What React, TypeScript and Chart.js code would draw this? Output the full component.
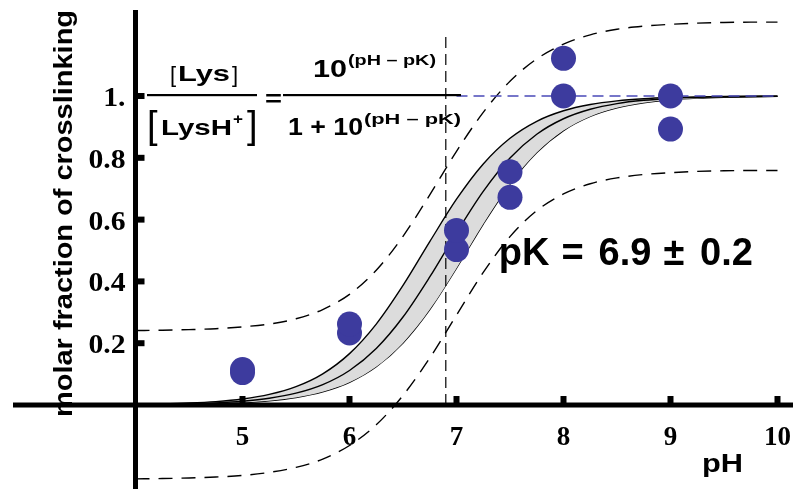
import React, { useEffect, useRef } from 'react';
import { Chart, registerables } from 'chart.js';

Chart.register(...registerables);

// ---- data ----
const pHGrid = [4, 4.25, 4.5, 4.75, 5, 5.25, 5.5, 5.75, 6, 6.25, 6.5, 6.75, 7, 7.25, 7.5, 7.75, 8, 8.25, 8.5, 8.75, 9, 9.25, 9.5, 9.75, 10];
const fitMid = [0.0013, 0.0022, 0.004, 0.007, 0.0124, 0.0219, 0.0383, 0.0661, 0.1118, 0.1829, 0.2847, 0.4145, 0.5573, 0.6912, 0.7992, 0.8762, 0.9264, 0.9572, 0.9755, 0.9861, 0.9921, 0.9956, 0.9975, 0.9986, 0.9992];
const bandUpper = [0.002, 0.0035, 0.0063, 0.0111, 0.0196, 0.0343, 0.0594, 0.1009, 0.1663, 0.2619, 0.3869, 0.5287, 0.6661, 0.7801, 0.8632, 0.9182, 0.9523, 0.9726, 0.9844, 0.9912, 0.995, 0.9972, 0.9984, 0.9991, 0.9995];
const bandLower = [0.0008, 0.0014, 0.0025, 0.0045, 0.0079, 0.0139, 0.0245, 0.0428, 0.0736, 0.1238, 0.2008, 0.3087, 0.4427, 0.5855, 0.7153, 0.8171, 0.8882, 0.9339, 0.9617, 0.9781, 0.9876, 0.993, 0.996, 0.9978, 0.9987];
const predUpper = [0.241, 0.242, 0.244, 0.247, 0.253, 0.262, 0.279, 0.309, 0.358, 0.436, 0.546, 0.68, 0.821, 0.947, 1.048, 1.12, 1.168, 1.198, 1.216, 1.226, 1.232, 1.236, 1.238, 1.239, 1.239];
const predLower = [-0.239, -0.238, -0.236, -0.233, -0.228, -0.218, -0.202, -0.175, -0.131, -0.064, 0.031, 0.152, 0.291, 0.429, 0.545, 0.629, 0.683, 0.716, 0.735, 0.746, 0.752, 0.756, 0.758, 0.759, 0.759];

const pHMeasured = [5, 5, 6, 6, 7, 7, 7.5, 7.5, 8, 8, 9, 9];
const fracMeasured = [0.105, 0.115, 0.233, 0.262, 0.503, 0.565, 0.672, 0.755, 1.0, 1.122, 0.893, 1.0];

const pKLineX = [6.9, 6.9];
const pKLineY = [0, 1.2];
const plateauX = [7, 10];
const plateauY = [1, 1];

const xTickValues = [5, 6, 7, 8, 9, 10];
const xTickLabels = ['5', '6', '7', '8', '9', '10'];
const yTickValues = [0.2, 0.4, 0.6, 0.8, 1.0];
const yTickLabels = ['0.2', '0.4', '0.6', '0.8', '1.'];
const xAxisTitle = 'pH';
const yAxisTitle = 'molar fraction of crosslinking';
const fitParts = ['pK', '=', '6.9', '±', '0.2'];

const SANS = '"Liberation Sans", Arial, Helvetica, sans-serif';
const SERIF = '"Liberation Serif", "Times New Roman", serif';

const pts = (xs: number[], ys: number[]) => xs.map((x, i) => ({ x, y: ys[i] }));

function drawText(
  ctx: CanvasRenderingContext2D,
  s: string,
  x: number,
  y: number,
  font: string,
  align: 'left' | 'center' | 'right' = 'left',
  width?: number,
  stretch?: number
) {
  ctx.save();
  ctx.font = font;
  ctx.textBaseline = 'alphabetic';
  ctx.textAlign = 'left';
  const w = ctx.measureText(s).width;
  const sx = width ? width / w : stretch || 1;
  const tw = w * sx;
  const left = align === 'center' ? x - tw / 2 : align === 'right' ? x - tw : x;
  ctx.translate(left, y);
  ctx.scale(sx, 1);
  ctx.fillStyle = '#000';
  ctx.fillText(s, 0, 0);
  ctx.restore();
}

const overlay = {
  id: 'overlay',
  afterDatasetsDraw(chart: any) {
    const ctx: CanvasRenderingContext2D = chart.ctx;
    const xs = chart.scales.x;
    const ys = chart.scales.y;
    const x0 = xs.getPixelForValue(4);
    const y0 = ys.getPixelForValue(0);
    ctx.save();
    ctx.fillStyle = '#000';
    // axes
    ctx.fillRect(13, y0 - 2.5, 793 - 13, 5);
    ctx.fillRect(x0 - 2.5, 10, 5, 489 - 10);
    // x ticks
    xTickValues.forEach((v, i) => {
      const px = xs.getPixelForValue(v);
      ctx.fillRect(px - 3, y0 - 9, 6, 8);
      drawText(ctx, xTickLabels[i], px, y0 + 40, `bold 27px ${SERIF}`, 'center');
    });
    // y ticks
    yTickValues.forEach((v, i) => {
      const py = ys.getPixelForValue(v);
      ctx.fillRect(x0 + 1, py - 3, 8, 6);
      drawText(ctx, yTickLabels[i], x0 - 10, py + 10, `bold 27px ${SERIF}`, 'right', undefined, 1.1);
    });
    // axis titles
    drawText(ctx, xAxisTitle, 702, 472, `bold 25px ${SANS}`, 'left', 41);
    ctx.save();
    ctx.translate(72, 213.5);
    ctx.rotate(-Math.PI / 2);
    drawText(ctx, yAxisTitle, 0, 0, `bold 26px ${SANS}`, 'center', 407);
    ctx.restore();

    // formula
    drawText(ctx, '[', 170, 82, `22px ${SANS}`, 'left');
    drawText(ctx, 'Lys', 178, 81, `bold 22px ${SANS}`, 'left', 52);
    drawText(ctx, ']', 232, 82, `22px ${SANS}`, 'left');
    drawText(ctx, '[', 147, 138, `38px ${SANS}`, 'left');
    drawText(ctx, 'LysH', 161, 135, `bold 22px ${SANS}`, 'left', 71);
    drawText(ctx, '+', 233, 124, `bold 14px ${SANS}`, 'left', 10);
    drawText(ctx, ']', 247, 138, `38px ${SANS}`, 'left');
    ctx.fillRect(147, 94, 257 - 147, 2.2);
    drawText(ctx, '=', 273.5, 106, `bold 22px ${SANS}`, 'center', 17);
    ctx.fillRect(283, 94, 461 - 283, 2.2);
    drawText(ctx, '10', 313, 77, `bold 24px ${SANS}`, 'left', 34);
    drawText(ctx, '(pH \u2013 pK)', 348, 65, `bold 15px ${SANS}`, 'left', 88);
    drawText(ctx, '1 + 10', 288, 135, `bold 24px ${SANS}`, 'left', 75);
    drawText(ctx, '(pH \u2013 pK)', 364, 124, `bold 15px ${SANS}`, 'left', 97);

    // fit annotation
    const centers = [524, 572.5, 625, 674, 726.5];
    fitParts.forEach((s, i) => drawText(ctx, s, centers[i], 265, `bold 38px ${SANS}`, 'center'));
    ctx.restore();
  },
};

export default function App() {
  const ref = useRef<HTMLCanvasElement | null>(null);
  useEffect(() => {
    document.body.style.margin = '0';
    const canvas = ref.current;
    if (!canvas) return;
    const solid = { borderColor: '#000', borderWidth: 1.4, pointRadius: 0, fill: false, cubicInterpolationMode: 'monotone' as const };
    const dashed = { ...solid, borderDash: [14, 9] };
    const chart = new Chart(canvas, {
      type: 'line',
      data: {
        datasets: [
          {
            label: 'measured',
            data: pts(pHMeasured, fracMeasured),
            showLine: false,
            pointRadius: 12.5,
            pointBackgroundColor: '#3d3b9e',
            pointBorderWidth: 0,
            borderColor: '#3d3b9e',
            order: 0,
          } as any,
          { label: 'plateau', data: pts(plateauX, plateauY), borderColor: '#4a4ab8', borderWidth: 1.3, borderDash: [11, 6], pointRadius: 0, fill: false, order: 1 },
          { label: 'pK', data: pts(pKLineX, pKLineY), borderColor: '#000', borderWidth: 1.2, borderDash: [11, 6], pointRadius: 0, fill: false, order: 1 },
          { label: 'pred upper', data: pts(pHGrid, predUpper), ...dashed, order: 2 },
          { label: 'pred lower', data: pts(pHGrid, predLower), ...dashed, order: 2 },
          { label: 'fit', data: pts(pHGrid, fitMid), ...solid, order: 2 },
          { label: 'band upper', data: pts(pHGrid, bandUpper), ...solid, fill: '+1', backgroundColor: '#dcdcdc', order: 3 },
          { label: 'band lower', data: pts(pHGrid, bandLower), ...solid, order: 3 },
        ],
      },
      options: {
        animation: false,
        responsive: false,
        maintainAspectRatio: false,
        layout: { padding: 0, autoPadding: false },
        plugins: { legend: { display: false }, tooltip: { enabled: false } },
        scales: {
          x: { type: 'linear', min: 2.7336, max: 10.1449, display: false },
          y: { type: 'linear', min: -0.2718, max: 1.3107, display: false },
        },
      },
      plugins: [overlay],
    });
    return () => chart.destroy();
  }, []);
  return (
    <div style={{ position: 'absolute', left: 0, top: 0, width: 793, height: 489, background: '#fff' }}>
      <canvas ref={ref} width={793} height={489} style={{ display: 'block' }} />
    </div>
  );
}
